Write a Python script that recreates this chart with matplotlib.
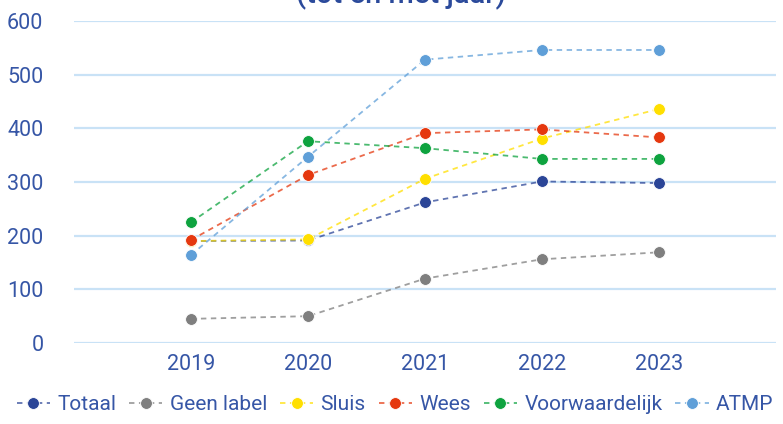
import matplotlib
matplotlib.use("Agg")
import matplotlib.pyplot as plt
from matplotlib.colors import to_rgba

plt.rcParams['font.family'] = ['Roboto', 'DejaVu Sans']

# data
jaren = [2019, 2020, 2021, 2022, 2023]
totaal = [190, 191, 262, 301, 298]
geen_label = [45, 50, 120, 156, 169]
sluis = [190, 193, 306, 381, 436]
wees = [192, 313, 391, 398, 383]
voorwaardelijk = [225, 376, 363, 343, 343]
atmp = [164, 347, 528, 546, 546]

reeksen = ['Totaal', 'Geen label', 'Sluis', 'Wees', 'Voorwaardelijk', 'ATMP']
waarden = [totaal, geen_label, sluis, wees, voorwaardelijk, atmp]
kleuren = ['#2b4597', '#7f7f7f', '#ffdf00', '#e5380f', '#0ea33f', '#5f9fd8']

tekstkleur = '#3656a6'
gridkleur = '#c9e2f6'

fig = plt.figure(figsize=(7.83, 4.24), dpi=100)
ax = fig.add_axes([74/783, 81/424, 702/783, 322/424])

for naam, vals, kl in zip(reeksen, waarden, kleuren):
    ax.plot(jaren, vals, linestyle=(0, (3, 2.5)), linewidth=1.3,
            color=to_rgba(kl, 0.75), marker='o', markersize=8.5,
            markerfacecolor=kl, markeredgecolor='white', markeredgewidth=0.6,
            label=naam, zorder=3)

ax.set_xlim(2018, 2024)
ax.set_ylim(0, 600)
ax.set_yticks(range(0, 601, 100))
ax.set_xticks(jaren)
ax.grid(axis='y', color=gridkleur, linewidth=1.6)
ax.set_axisbelow(True)
for s in ax.spines.values():
    s.set_visible(False)
ax.tick_params(axis='both', length=0, labelsize=15.5, colors=tekstkleur)
ax.tick_params(axis='y', pad=22)
ax.tick_params(axis='x', pad=8)

# title is cut off at the top edge in the reference
fig.text(401/783, 1 - 3/424, '(tot en met jaar)', ha='center', va='baseline',
         fontsize=21, color='#2b4a9b', fontweight='medium')

fig.legend(loc='center', bbox_to_anchor=(395/783, 19/424), ncol=6, frameon=False,
           fontsize=15, labelcolor=tekstkleur, handlelength=1.6, handletextpad=0.35,
           columnspacing=0.62, borderaxespad=0, borderpad=0)

fig.savefig('out.png', dpi=100)
